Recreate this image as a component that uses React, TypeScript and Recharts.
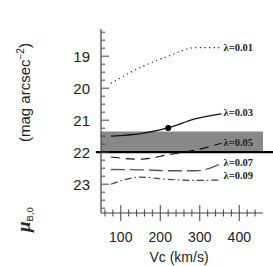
import { ComposedChart, Line, XAxis, YAxis, ReferenceArea, ReferenceLine } from 'recharts'

// circular velocity grid (km/s)
const VC = [75, 150, 220, 290, 355]
// central surface brightness for each spin parameter
const LAMBDA_001 = [19.85, 19.35, 19.0, 18.73, 18.73]
const LAMBDA_003 = [21.5, 21.42, 21.24, 20.95, 20.8]
const LAMBDA_005 = [22.15, 22.22, 22.08, 21.93, 21.72]
const LAMBDA_007 = [22.54, 22.55, 22.58, 22.58, 22.35]
const LAMBDA_009 = [23.0, 22.78, 22.85, 22.88, 22.87]
const SERIES_LABELS = ['λ=0.01', 'λ=0.03', 'λ=0.05', 'λ=0.07', 'λ=0.09']

const X_TICKS = [60, 80, 100, 120, 140, 160, 180, 200, 220, 240, 260, 280, 300, 320, 340, 360, 380, 400, 420, 440]
const X_MAJOR = [100, 200, 300, 400]
const Y_TICKS = [
  18.25, 18.5, 18.75, 19, 19.25, 19.5, 19.75, 20, 20.25, 20.5, 20.75, 21, 21.25, 21.5, 21.75, 22,
  22.25, 22.5, 22.75, 23, 23.25, 23.5, 23.75,
]
const Y_MAJOR = [19, 20, 21, 22, 23]
const BAND = [21.35, 22]
const FREEMAN_MU = 22
const MARKED_VC = 220

const FRAME = '#444'
const SANS = '"Liberation Sans", Arial, sans-serif'
const SERIF = '"Liberation Serif", "Times New Roman", serif'

function BottomTick({ x, y, payload }: any) {
  const major = X_MAJOR.includes(payload.value)
  const len = major ? 8 : 3.5
  return (
    <g>
      <line x1={x} x2={x} y1={y - len} y2={y + len} stroke={FRAME} strokeWidth={1} />
      {major && (
        <text x={x} y={y + 29} textAnchor="middle" fontFamily={SANS} fontSize={14} fill="#222">
          {payload.value}
        </text>
      )}
    </g>
  )
}

function TopTick({ x, y, payload }: any) {
  const len = X_MAJOR.includes(payload.value) ? 9 : 4
  return <line x1={x} x2={x} y1={y} y2={y + len} stroke={FRAME} strokeWidth={1} />
}

function LeftTick({ x, y, payload }: any) {
  const major = Y_MAJOR.includes(payload.value)
  const len = major ? 8 : 4
  return (
    <g>
      <line x1={x} x2={x + len} y1={y} y2={y} stroke={FRAME} strokeWidth={1} />
      {major && (
        <text x={x - 11} y={y + 5.5} textAnchor="end" fontFamily={SANS} fontSize={15} fill="#222">
          {payload.value}
        </text>
      )}
    </g>
  )
}

function RightTick({ x, y, payload }: any) {
  const len = Y_MAJOR.includes(payload.value) ? 8 : 4
  return <line x1={x - len} x2={x} y1={y} y2={y} stroke={FRAME} strokeWidth={1} />
}

function seriesLabel(text: string, dy: number) {
  return (props: any) => {
    if (props.index !== VC.length - 1) return <g key={props.index} />
    return (
      <text
        key={props.index}
        x={props.x + 2}
        y={props.y + dy}
        fontFamily={SERIF}
        fontWeight="bold"
        fontSize={10.5}
        fill="#222"
      >
        {text}
      </text>
    )
  }
}

function MarkDot(props: any) {
  if (props.payload.vc !== MARKED_VC) return <g key={props.index} />
  return <circle key={props.index} cx={props.cx} cy={props.cy} r={3} fill="#000" />
}

function YTitle() {
  return (
    <g fill="#222" fontFamily={SANS}>
      <text transform="translate(30,232) rotate(-90)" fontSize={19} fontStyle="italic" fontWeight="bold" fontFamily={SERIF}>
        μ
        <tspan fontSize={9.5} fontStyle="normal" fontWeight="normal" fontFamily={SANS} dy={3}>
          B,0
        </tspan>
      </text>
      <text transform="translate(30,142) rotate(-90)" fontSize={15}>
        (mag arcsec
        <tspan fontSize={10} dy={-6}>
          −2
        </tspan>
        <tspan dy={6}>)</tspan>
      </text>
    </g>
  )
}

export default function App() {
  const data = VC.map((vc, i) => ({
    vc,
    l1: LAMBDA_001[i],
    l3: LAMBDA_003[i],
    l5: LAMBDA_005[i],
    l7: LAMBDA_007[i],
    l9: LAMBDA_009[i],
  }))

  return (
    <div style={{ position: 'absolute', left: 0, top: 0, width: 273, height: 266, background: '#fff' }}>
      <ComposedChart width={273} height={266} data={data} margin={{ top: 29, right: 10, bottom: 0, left: 0 }}>
        <XAxis
          xAxisId="b"
          dataKey="vc"
          type="number"
          domain={[50, 460]}
          allowDataOverflow
          ticks={X_TICKS}
          interval={0}
          height={53}
          tickSize={0}
          tickMargin={0}
          tick={(p: any) => <BottomTick {...p} />}
          axisLine={{ stroke: FRAME, strokeWidth: 1.2 }}
          label={() => (
            <text x={179} y={262} textAnchor="middle" fontFamily={SANS} fontSize={14} fill="#222">
              Vc (km/s)
            </text>
          )}
        />
        <XAxis
          xAxisId="t"
          orientation="top"
          dataKey="vc"
          type="number"
          domain={[50, 460]}
          allowDataOverflow
          ticks={X_TICKS}
          interval={0}
          height={0}
          tickSize={0}
          tickMargin={0}
          tick={(p: any) => <TopTick {...p} />}
          axisLine={{ stroke: FRAME, strokeWidth: 1.2 }}
        />
        <YAxis
          yAxisId="l"
          type="number"
          domain={[18.15, 23.9]}
          allowDataOverflow
          reversed
          ticks={Y_TICKS}
          interval={0}
          width={101}
          tickSize={0}
          tickMargin={0}
          tick={(p: any) => <LeftTick {...p} />}
          axisLine={{ stroke: FRAME, strokeWidth: 1.2 }}
          label={() => <YTitle />}
        />
        <YAxis
          yAxisId="r"
          orientation="right"
          type="number"
          domain={[18.15, 23.9]}
          allowDataOverflow
          reversed
          ticks={Y_TICKS}
          interval={0}
          width={0}
          tickSize={0}
          tickMargin={0}
          tick={(p: any) => <RightTick {...p} />}
          axisLine={{ stroke: FRAME, strokeWidth: 1.6 }}
        />
        <ReferenceArea xAxisId="b" yAxisId="l" y1={BAND[0]} y2={BAND[1]} fill="#888" fillOpacity={1} stroke="none" />
        <ReferenceLine
          xAxisId="b"
          yAxisId="l"
          segment={[
            { x: 37, y: FREEMAN_MU },
            { x: 490, y: FREEMAN_MU },
          ]}
          ifOverflow="visible"
          stroke="#000"
          strokeWidth={2.2}
        />
        <Line xAxisId="b" yAxisId="l" type="monotone" dataKey="l1" stroke="#222" strokeWidth={1.2} strokeDasharray="1.2 3.4" dot={false} label={seriesLabel(SERIES_LABELS[0], 3.5)} isAnimationActive={false} />
        <Line xAxisId="b" yAxisId="l" type="monotone" dataKey="l3" stroke="#111" strokeWidth={1.3} dot={(p: any) => <MarkDot {...p} />} label={seriesLabel(SERIES_LABELS[1], 2)} isAnimationActive={false} />
        <Line xAxisId="b" yAxisId="l" type="monotone" dataKey="l5" stroke="#111" strokeWidth={1.2} strokeDasharray="9 6" dot={false} label={seriesLabel(SERIES_LABELS[2], 2.5)} isAnimationActive={false} />
        <Line xAxisId="b" yAxisId="l" type="monotone" dataKey="l7" stroke="#555" strokeWidth={1.3} strokeDasharray="14 5" dot={false} label={seriesLabel(SERIES_LABELS[3], 2.5)} isAnimationActive={false} />
        <Line xAxisId="b" yAxisId="l" type="monotone" dataKey="l9" stroke="#444" strokeWidth={1.2} strokeDasharray="7 3 1.5 3" dot={false} label={seriesLabel(SERIES_LABELS[4], -1)} isAnimationActive={false} />
      </ComposedChart>
    </div>
  )
}
